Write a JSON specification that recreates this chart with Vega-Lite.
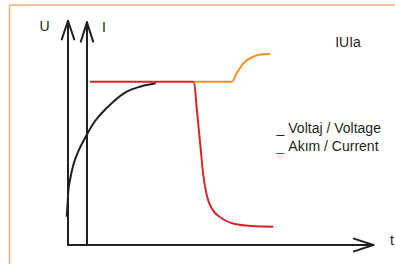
{
  "$schema": "https://vega.github.io/schema/vega-lite/v6.json",
  "width": 395,
  "height": 264,
  "padding": 0,
  "autosize": {"type": "none"},
  "background": "#ffffff",
  "config": {"view": {"stroke": null}},
  "datasets": {
    "border": [
      {"t": -19.5, "v": 120, "t2": 109, "v2": 120},
      {"t": -19.5, "v": 120, "t2": -19.5, "v2": -9.5}
    ],
    "axes": [
      {"t": 0, "v": 0, "t2": 0, "v2": 112},
      {"t": 0, "v": 112, "t2": -2.1, "v2": 102.8},
      {"t": 0, "v": 112, "t2": 2.1, "v2": 102.8},
      {"t": 6.33, "v": 0, "t2": 6.33, "v2": 111.3},
      {"t": 6.33, "v": 111.3, "t2": 4.28, "v2": 101.7},
      {"t": 6.33, "v": 111.3, "t2": 8.38, "v2": 101.7},
      {"t": 0, "v": 0, "t2": 101.8, "v2": 0},
      {"t": 101.8, "v": 0, "t2": 95.3, "v2": 3.2},
      {"t": 101.8, "v": 0, "t2": 95.3, "v2": -3.2}
    ],
    "curves": [
      {"s": "Voltaj / Voltage", "i": 0, "t": -0.43, "v": 14.15},
      {"s": "Voltaj / Voltage", "i": 1, "t": -0.17, "v": 20},
      {"s": "Voltaj / Voltage", "i": 2, "t": 0.1, "v": 26.65},
      {"s": "Voltaj / Voltage", "i": 3, "t": 0.67, "v": 32.5},
      {"s": "Voltaj / Voltage", "i": 4, "t": 1.77, "v": 40},
      {"s": "Voltaj / Voltage", "i": 5, "t": 3.33, "v": 46.5},
      {"s": "Voltaj / Voltage", "i": 6, "t": 6.23, "v": 55},
      {"s": "Voltaj / Voltage", "i": 7, "t": 8.33, "v": 60.5},
      {"s": "Voltaj / Voltage", "i": 8, "t": 10.67, "v": 65},
      {"s": "Voltaj / Voltage", "i": 9, "t": 15.1, "v": 71.65},
      {"s": "Voltaj / Voltage", "i": 10, "t": 19.57, "v": 76.65},
      {"s": "Voltaj / Voltage", "i": 11, "t": 24, "v": 79.15},
      {"s": "Voltaj / Voltage", "i": 12, "t": 29.23, "v": 80.85},
      {"s": "Akım / Current", "i": 0, "t": 7.33, "v": 81.65},
      {"s": "Akım / Current", "i": 1, "t": 42, "v": 81.65},
      {"s": "Akım / Current", "i": 2, "t": 42.9, "v": 68.35},
      {"s": "Akım / Current", "i": 3, "t": 44, "v": 51.65},
      {"s": "Akım / Current", "i": 4, "t": 45.1, "v": 35},
      {"s": "Akım / Current", "i": 5, "t": 46.23, "v": 25},
      {"s": "Akım / Current", "i": 6, "t": 47.9, "v": 18.35},
      {"s": "Akım / Current", "i": 7, "t": 51.23, "v": 13.35},
      {"s": "Akım / Current", "i": 8, "t": 55.67, "v": 10.5},
      {"s": "Akım / Current", "i": 9, "t": 61.23, "v": 9.5},
      {"s": "Akım / Current", "i": 10, "t": 68.43, "v": 9.15},
      {"s": "Ia", "i": 0, "t": 42, "v": 81.65},
      {"s": "Ia", "i": 1, "t": 54.57, "v": 81.65},
      {"s": "Ia", "i": 2, "t": 56.23, "v": 85.85},
      {"s": "Ia", "i": 3, "t": 58.43, "v": 90.85},
      {"s": "Ia", "i": 4, "t": 61.77, "v": 94.15},
      {"s": "Ia", "i": 5, "t": 64.57, "v": 95.35},
      {"s": "Ia", "i": 6, "t": 67.33, "v": 95.5}
    ],
    "labels": [
      {"label": "U", "t": -7.83, "v": 109},
      {"label": "I", "t": 12, "v": 108.5},
      {"label": "t", "t": 108, "v": 2},
      {"label": "IUIa", "t": 93.33, "v": 101}
    ],
    "legend": [
      {"s": "Voltaj / Voltage", "t": 69.5, "tl": 73.43, "v": 55.85},
      {"s": "Akım / Current", "t": 69.5, "tl": 73.43, "v": 47.15}
    ]
  },
  "layer": [
    {
      "data": {"name": "border"},
      "mark": {"type": "rule", "color": "#fbb074", "strokeWidth": 1.5},
      "encoding": {
        "x": {"field": "t", "type": "quantitative", "scale": {"domain": [-22.6667, 109], "nice": false, "zero": false}, "axis": null},
        "y": {"field": "v", "type": "quantitative", "scale": {"domain": [-9.5, 122.5], "nice": false, "zero": false}, "axis": null},
        "x2": {"field": "t2"},
        "y2": {"field": "v2"}
      }
    },
    {
      "data": {"name": "axes"},
      "mark": {"type": "rule", "color": "#231f20", "strokeWidth": 2, "strokeCap": "round"},
      "encoding": {
        "x": {"field": "t", "type": "quantitative", "axis": null},
        "y": {"field": "v", "type": "quantitative", "axis": null},
        "x2": {"field": "t2"},
        "y2": {"field": "v2"}
      }
    },
    {
      "data": {"name": "curves"},
      "mark": {"type": "line", "interpolate": "monotone", "strokeWidth": 2},
      "encoding": {
        "x": {"field": "t", "type": "quantitative", "axis": null},
        "y": {"field": "v", "type": "quantitative", "axis": null},
        "order": {"field": "i"},
        "color": {"field": "s", "type": "nominal", "legend": null,
          "scale": {"domain": ["Voltaj / Voltage", "Akım / Current", "Ia"], "range": ["#231f20", "#d9252b", "#f7931e"]}}
      }
    },
    {
      "data": {"name": "labels"},
      "mark": {"type": "text", "font": "Liberation Sans", "fontSize": 14, "align": "center", "baseline": "middle", "color": "#231f20"},
      "encoding": {
        "x": {"field": "t", "type": "quantitative", "axis": null},
        "y": {"field": "v", "type": "quantitative", "axis": null},
        "text": {"field": "label"}
      }
    },
    {
      "data": {"name": "legend"},
      "mark": {"type": "text", "font": "Liberation Sans", "fontSize": 14, "align": "left", "baseline": "alphabetic", "text": "_"},
      "encoding": {
        "x": {"field": "t", "type": "quantitative", "axis": null},
        "y": {"field": "v", "type": "quantitative", "axis": null},
        "color": {"field": "s", "type": "nominal", "legend": null}
      }
    },
    {
      "data": {"name": "legend"},
      "mark": {"type": "text", "font": "Liberation Sans", "fontSize": 14, "align": "left", "baseline": "alphabetic", "color": "#231f20"},
      "encoding": {
        "x": {"field": "tl", "type": "quantitative", "axis": null},
        "y": {"field": "v", "type": "quantitative", "axis": null},
        "text": {"field": "s"}
      }
    }
  ]
}
